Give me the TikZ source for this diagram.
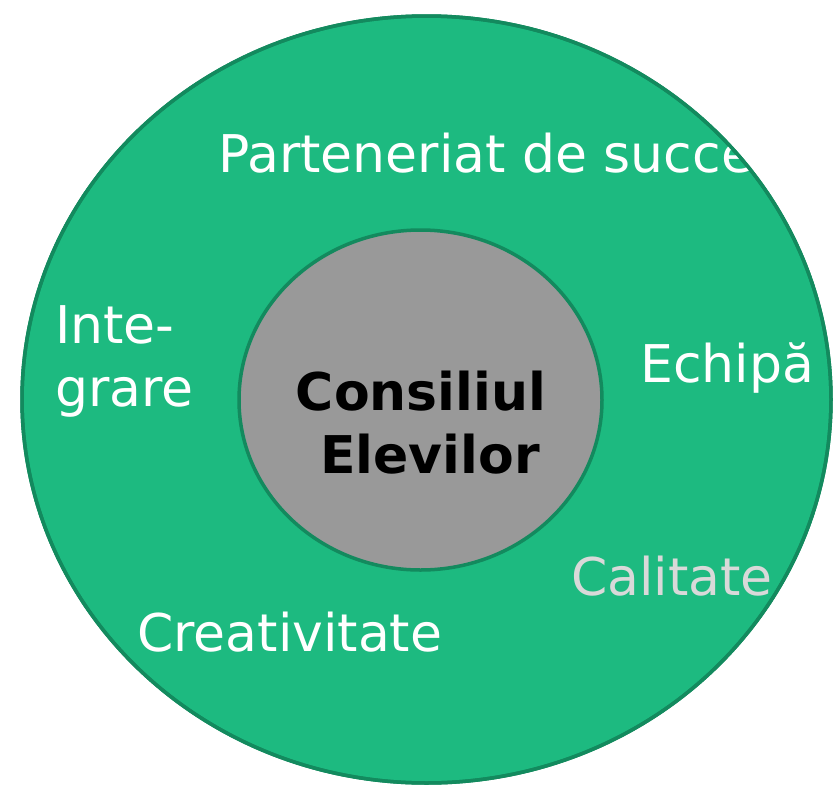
\documentclass[tikz,border=0pt]{standalone}
\usepackage{fontspec}
\setmainfont{DejaVu Sans}
\usetikzlibrary{shapes.geometric}
\definecolor{ringgreen}{HTML}{1DBA80}
\definecolor{ringedge}{HTML}{138A5E}
\definecolor{coregray}{HTML}{999999}
\definecolor{softgray}{HTML}{D9D9D9}

\begin{document}
\begin{tikzpicture}[x=1pt, y=-1pt,
    ring/.style={ellipse, fill=ringgreen, draw=ringedge, line width=3.5pt, inner sep=0pt},
    core/.style={ellipse, fill=coregray, draw=ringedge, line width=3.5pt, inner sep=0pt},
    title/.style={anchor=base, inner sep=0pt, font=\fontsize{52}{62}\selectfont\bfseries},
    word/.style={anchor=base west, inner sep=0pt, text=white, font=\fontsize{52}{62}\selectfont}]
  \useasboundingbox (0,0) rectangle (833,785);
  % outer ring
  \node[ring, minimum width=809pt, minimum height=767pt] (outer) at (426.5,399.5) {};
  % words on the ring, cut at its edge
  \begin{scope}
    \clip (outer.center) ellipse [x radius=404.5pt, y radius=383.5pt];
    \node[word] (partner) at (218,172) {Parteneriat de succe};
    \node[word] (integ1) at (55,343) {Inte-};
    \node[word] (integ2) at (55,406) {grare};
    \node[word] (team) at (640,382) {Echipă};
    \node[word, text=softgray] (quality) at (571,595) {Calitate};
    \node[word] (creative) at (137,651) {Creativitate};
  \end{scope}
  \draw[ringedge, line width=3.5pt] (outer.center) ellipse [x radius=404.5pt, y radius=383.5pt];
  % inner circle
  \node[core, minimum width=363pt, minimum height=340pt] (core) at (420.5,400) {};
  \node[title] (name1) at (421,410) {Consiliul};
  \node[title] (name2) at (430,473) {Elevilor};
\end{tikzpicture}
\end{document}
